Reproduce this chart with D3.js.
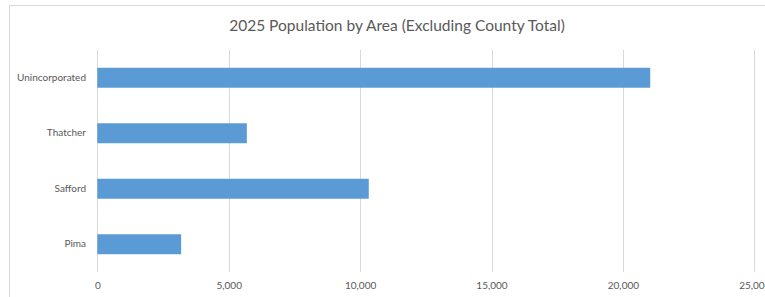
<!DOCTYPE html>
<html>
<head>
<meta charset="utf-8">
<script src="https://cdn.jsdelivr.net/npm/d3@7"></script>
<style>
  html, body { margin: 0; padding: 0; background: #fff; overflow: hidden; }
  svg { display: block; font-family: Lato, "Open Sans", sans-serif; }
</style>
</head>
<body>
<svg width="765" height="297"></svg>
<script>
// data
var areas = ["Unincorporated", "Thatcher", "Safford", "Pima"];
var population = [21040, 5690, 10330, 3190];
var xTicks = [0, 5000, 10000, 15000, 20000, 25000];
var chartTitle = "2025 Population by Area (Excluding County Total)";

var svg = d3.select("svg"),
    width = +svg.attr("width"),
    height = +svg.attr("height");

// chart frame (runs off the right and bottom of the window)
svg.append("rect")
    .attr("x", 9.5)
    .attr("y", 5.5)
    .attr("width", 776)
    .attr("height", 310)
    .attr("fill", "#fff")
    .attr("stroke", "#d9d9d9");

var x = d3.scaleLinear()
    .domain([0, 25000])
    .range([97.3, 754.3]);

var y = d3.scaleBand()
    .domain(areas)
    .range([50, 272])
    .paddingInner(0.64)
    .paddingOuter(0.32);

// gridlines
svg.append("g")
    .selectAll("line")
    .data(xTicks)
    .enter().append("line")
    .attr("x1", function(d) { return Math.round(x(d)) + 0.5; })
    .attr("x2", function(d) { return Math.round(x(d)) + 0.5; })
    .attr("y1", 50)
    .attr("y2", 272)
    .attr("stroke", "#d9d9d9")
    .attr("stroke-width", 1);

// bars
svg.append("g")
    .selectAll("rect")
    .data(areas)
    .enter().append("rect")
    .attr("x", x(0))
    .attr("y", function(d) { return y(d); })
    .attr("width", function(d, i) { return x(population[i]) - x(0); })
    .attr("height", y.bandwidth())
    .attr("fill", "#5b9bd5");

// x axis labels, no line or ticks
var xAxis = svg.append("g")
    .attr("transform", "translate(0,272)")
    .call(d3.axisBottom(x).tickValues(xTicks).tickFormat(d3.format(",")).tickSize(0).tickPadding(10));
xAxis.select(".domain").remove();
xAxis.selectAll("text")
    .attr("fill", "#595959")
    .style("font-size", "10px")
    .style("font-family", "Lato, 'Open Sans', sans-serif");

// category labels
var yAxis = svg.append("g")
    .attr("transform", "translate(97,0)")
    .call(d3.axisLeft(y).tickSize(0).tickPadding(11));
yAxis.select(".domain").remove();
yAxis.selectAll("text")
    .attr("fill", "#595959")
    .style("font-size", "10px")
    .style("font-family", "Lato, 'Open Sans', sans-serif");

// title, sized to the span it takes in the picture
var title = svg.append("text")
    .attr("x", 397)
    .attr("y", 31)
    .attr("text-anchor", "middle")
    .attr("fill", "#595959")
    .style("font-size", "16px")
    .text(chartTitle);
var w = title.node().getComputedTextLength();
title.style("font-size", (16 * 336 / w).toFixed(2) + "px");
</script>
</body>
</html>
